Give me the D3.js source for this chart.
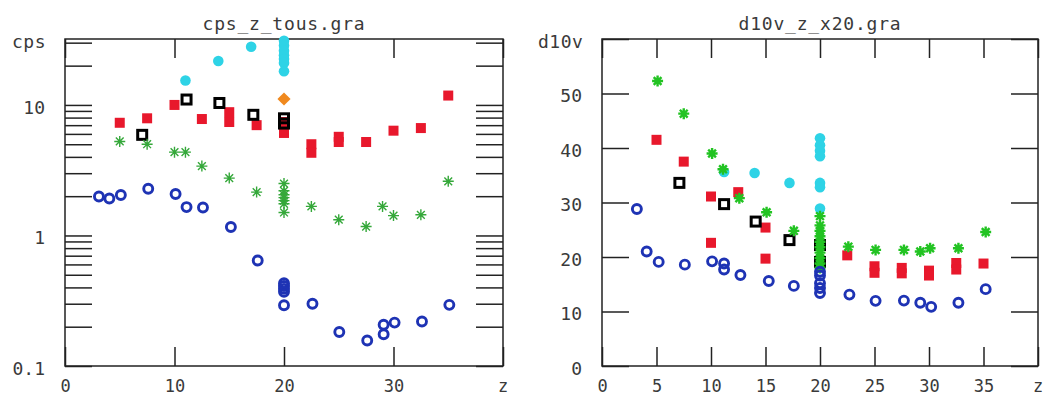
<!DOCTYPE html>
<html><head><meta charset="utf-8">
<script src="https://cdn.jsdelivr.net/npm/d3@7"></script>
<style>
html,body{margin:0;padding:0;background:#fff;}
svg{display:block;}
text{font-family:"DejaVu Sans Mono",monospace;font-size:18px;fill:#3a3a3a;}
</style></head><body><svg id="c" width="1044" height="396"></svg>
<script>
// ---------- Left panel: cps_z_tous.gra (log y) ----------
const titleL = "cps_z_tous.gra";
const yTitleL = "cps";
const xTitle = "z";
const xTicksL = [0, 10, 20, 30, 40];
const xTickLabelsL = ["0", "10", "20", "30", ""];
const yTicksL = [0.1,0.2,0.3,0.4,0.5,0.6,0.7,0.8,0.9,1,2,3,4,5,6,7,8,9,10,20,30];
const yLabelValsL = [0.1, 1, 10];
const yTickLabelsL = ["0.1", "1", "10"];

const blueZ_L = [3.1,4.05,5.1,7.6,10.1,11.1,12.6,15.15,17.6,20,20,20,20,20,22.6,25.05,27.6,29.1,29.1,30.1,32.6,35.1];
const blueV_L = [1.99,1.92,2.04,2.28,2.08,1.65,1.64,1.16,0.643,0.43,0.41,0.39,0.37,0.292,0.30,0.182,0.157,0.175,0.207,0.215,0.219,0.294];
const redZ_L = [5,7.5,10,12.5,15,15,17.5,20,20,20,20,22.5,22.5,25,25,27.5,30,32.5,35];
const redV_L = [7.3,7.9,10.0,7.8,8.8,7.4,7.0,7.4,6.9,6.5,6.1,5.0,4.3,5.7,5.2,5.2,6.35,6.65,11.8];
const blackZ_L = [7.05,11.1,14.1,17.2,20,20];
const blackV_L = [5.9,11.0,10.35,8.4,7.9,7.2];
const greenZ_L = [5,7.5,10,11,12.5,15,17.5,20,20,20,20,20,20,20,22.5,25,27.5,29,30,32.5,35];
const greenV_L = [5.25,5.0,4.35,4.35,3.4,2.75,2.15,2.5,2.2,2.05,1.95,1.85,1.75,1.5,1.67,1.32,1.17,1.67,1.42,1.44,2.6];
const cyanZ_L = [11,14,17,20,20,20,20,20,20,20];
const cyanV_L = [15.4,21.7,27.9,31,28.5,26,24,22.5,21,18.1];
const orangeZ_L = [20];
const orangeV_L = [11.1];

// ---------- Right panel: d10v_z_x20.gra (linear y) ----------
const titleR = "d10v_z_x20.gra";
const yTitleR = "d10v";
const xTicksR = [0,5,10,15,20,25,30,35,40];
const xTickLabelsR = ["0","5","10","15","20","25","30","35",""];
const yTicksR = [0,10,20,30,40,50,60];
const yTickLabelsR = ["0","10","20","30","40","50",""];

const blueZ_R = [3.2,4.1,5.2,7.6,10.1,11.2,11.2,12.7,15.3,17.6,20,20,20,20,20,22.7,25.1,27.7,29.2,30.2,32.7,35.2];
const blueV_R = [28.8,21.0,19.1,18.6,19.2,18.8,17.7,16.7,15.6,14.7,17.3,16.6,15.2,14.3,13.4,13.1,11.95,12.0,11.6,10.85,11.6,14.1];
const redZ_R = [5,7.5,10,10,12.5,15,15,22.5,25,25,27.5,27.5,30,30,32.5,32.5,35];
const redV_R = [41.5,37.5,31.1,22.6,31.9,25.4,19.7,20.3,18.3,17.1,18.0,17.0,17.5,16.6,18.9,17.7,18.8];
const blackZ_R = [7.1,11.2,14.1,17.2,20,20];
const blackV_R = [33.6,29.7,26.5,23.1,22.2,19.1];
const greenZ_R = [5.1,7.5,10.1,11.1,12.6,15.1,17.6,20,20,20,20,20,20,20,20,20,20,22.6,25.1,27.7,29.2,30.1,32.7,35.2];
const greenV_R = [52.3,46.3,39.0,36.1,30.8,28.2,24.8,27.5,25.8,24.8,23.8,22.8,21.8,20.8,19.8,18.8,18.0,21.9,21.3,21.3,21.0,21.6,21.6,24.6];
const cyanZ_R = [11.2,14,17.2,20,20,20,20,20,20,20];
const cyanV_R = [35.6,35.4,33.6,41.8,40.5,39.5,38.5,33.6,32.8,28.9];

const COL = {blue:"#1e33b4", red:"#e8182c", black:"#000", greenL:"#35a83a", greenR:"#22c322", cyan:"#2ed3e6", orange:"#f0891e", axis:"#222"};

const svg = d3.select("#c");

function asteriskPath(s){
  const d = s*0.7071;
  return `M0,${-s}L0,${s}M${-s},0L${s},0M${-d},${-d}L${d},${d}M${-d},${d}L${d},${-d}`;
}
function zip(a,b){ return a.map((v,i)=>[v,b[i]]); }

function panel(o){
  const x = o.x, y = o.y;
  const [x0,x1] = x.range();
  const [yb,yt] = y.range();
  const g = svg.append("g");

  const styleAxis = sel => {
    sel.attr("font-family", null).attr("font-size", null);
    sel.select(".domain").remove();
    sel.selectAll(".tick line").attr("stroke", COL.axis).attr("stroke-width", 1.5);
    sel.selectAll(".tick text").attr("fill", "#3a3a3a");
  };

  // left axis with labels
  g.append("g").attr("transform", `translate(${x0},0)`)
    .call(d3.axisLeft(y).tickValues(o.yTicks).tickSize(-27).tickPadding(20).tickFormat(o.yFmt))
    .call(styleAxis).selectAll(".tick text").attr("dy", "0.45em");
  // right axis ticks inward
  g.append("g").attr("transform", `translate(${x1},0)`)
    .call(d3.axisRight(y).tickValues(o.yTicks).tickSize(-27).tickFormat(""))
    .call(styleAxis);
  // bottom axis
  g.append("g").attr("transform", `translate(0,${yb})`)
    .call(d3.axisBottom(x).tickValues(o.xTicks).tickSize(-19).tickPadding(14).tickFormat((d,i)=>o.xLabels[i]))
    .call(styleAxis).selectAll(".tick text").style("font-size","17px");
  // top axis ticks inward
  g.append("g").attr("transform", `translate(0,${yt})`)
    .call(d3.axisTop(x).tickValues(o.xTicks).tickSize(-19).tickFormat(""))
    .call(styleAxis);

  // frame
  g.append("rect").attr("x", x0).attr("y", yt).attr("width", x1-x0).attr("height", yb-yt)
    .attr("fill","none").attr("stroke", COL.axis).attr("stroke-width", 1.5);

  // titles
  g.append("text").attr("x", (x0+x1)/2).attr("y", 30).attr("text-anchor","middle")
    .attr("letter-spacing", "0.8px").text(o.title);
  g.append("text").attr("x", o.yTitleX).attr("y", 48).attr("letter-spacing","0.5px").text(o.yTitle);
  g.append("text").attr("x", x1).attr("y", 392).attr("text-anchor","middle").style("font-size","17px").text(xTitle);

  const marks = g.append("g");
  // red filled squares
  marks.selectAll(".red").data(zip(o.redZ,o.redV)).join("rect").attr("class","red")
    .attr("x", d=>x(d[0])-5).attr("y", d=>y(d[1])-5).attr("width",10).attr("height",10).attr("fill",COL.red);
  // black open squares
  marks.selectAll(".blk").data(zip(o.blackZ,o.blackV)).join("rect").attr("class","blk")
    .attr("x", d=>x(d[0])-4.5).attr("y", d=>y(d[1])-4.5).attr("width",9).attr("height",9)
    .attr("fill","none").attr("stroke",COL.black).attr("stroke-width",3);
  // cyan filled circles
  marks.selectAll(".cy").data(zip(o.cyanZ,o.cyanV)).join("circle").attr("class","cy")
    .attr("cx", d=>x(d[0])).attr("cy", d=>y(d[1])).attr("r",5.3).attr("fill",COL.cyan);
  // green asterisks
  marks.selectAll(".gr").data(zip(o.greenZ,o.greenV)).join("path").attr("class","gr")
    .attr("transform", d=>`translate(${x(d[0])},${y(d[1])})`).attr("d", asteriskPath(o.astS))
    .attr("fill","none").attr("stroke", o.greenCol).attr("stroke-width", o.astW);
  // blue open circles
  marks.selectAll(".bl").data(zip(o.blueZ,o.blueV)).join("circle").attr("class","bl")
    .attr("cx", d=>x(d[0])).attr("cy", d=>y(d[1])).attr("r",4.5)
    .attr("fill","none").attr("stroke",COL.blue).attr("stroke-width",2.9);
  // orange diamonds
  if (o.orangeZ) {
    marks.selectAll(".or").data(zip(o.orangeZ,o.orangeV)).join("path").attr("class","or")
      .attr("transform", d=>`translate(${x(d[0])},${y(d[1])})`)
      .attr("d", d3.symbol(d3.symbolDiamond2, 110)).attr("fill", COL.orange);
  }
}

const xL = d3.scaleLinear().domain([0,40]).range([65,503]);
const yL = d3.scaleLog().domain([0.1,32]).range([366,39]);
panel({
  x:xL, y:yL, title:titleL, yTitle:yTitleL, yTitleX:12,
  yTicks:yTicksL, yFmt:d=>{const i=yLabelValsL.findIndex(v=>Math.abs(v-d)<1e-9); return i>=0?yTickLabelsL[i]:"";},
  xTicks:xTicksL, xLabels:xTickLabelsL,
  blueZ:blueZ_L, blueV:blueV_L, redZ:redZ_L, redV:redV_L, blackZ:blackZ_L, blackV:blackV_L,
  greenZ:greenZ_L, greenV:greenV_L, cyanZ:cyanZ_L, cyanV:cyanV_L, orangeZ:orangeZ_L, orangeV:orangeV_L,
  greenCol:COL.greenL, astS:5.5, astW:1.4
});

const xR = d3.scaleLinear().domain([0,40]).range([602,1038]);
const yR = d3.scaleLinear().domain([0,60]).range([366,39]);
panel({
  x:xR, y:yR, title:titleR, yTitle:yTitleR, yTitleX:538,
  yTicks:yTicksR, yFmt:(d,i)=>yTickLabelsR[i],
  xTicks:xTicksR, xLabels:xTickLabelsR,
  blueZ:blueZ_R, blueV:blueV_R, redZ:redZ_R, redV:redV_R, blackZ:blackZ_R, blackV:blackV_R,
  greenZ:greenZ_R, greenV:greenV_R, cyanZ:cyanZ_R, cyanV:cyanV_R,
  greenCol:COL.greenR, astS:5.5, astW:2.4
});
</script></body></html>
